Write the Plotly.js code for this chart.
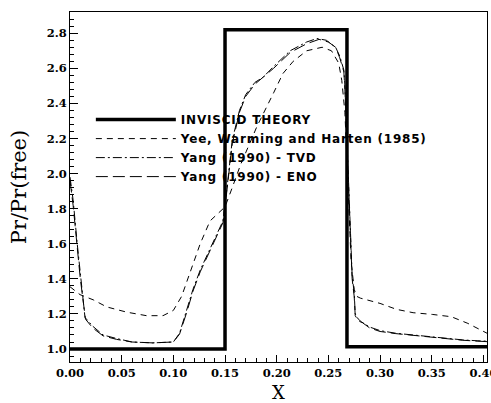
<!DOCTYPE html>
<html>
<head>
<meta charset="utf-8">
<script src="https://cdn.plot.ly/plotly-3.0.1.min.js"></script>
<style>
html,body{margin:0;padding:0;background:#fff;}
.legendtext{letter-spacing:0.8px;}
</style>
</head>
<body>
<div id="chart" style="width:491px;height:403px;"></div>
<script>
// Inviscid theory (step)
var invX = [0, 0.15, 0.15, 0.268, 0.268, 0.4035];
var invY = [1.0, 1.0, 2.82, 2.82, 1.013, 1.013];

// Yee, Warming and Harten (1985)
var yeeX = [0, 0.0097, 0.0226, 0.0355, 0.055, 0.074, 0.090, 0.100, 0.108, 0.116, 0.126, 0.1355, 0.150, 0.157, 0.165, 0.173, 0.181, 0.197, 0.206, 0.216, 0.229, 0.244, 0.253, 0.260, 0.263, 0.266, 0.268, 0.270, 0.272, 0.275, 0.2775, 0.281, 0.300, 0.316, 0.332, 0.351, 0.369, 0.385, 0.400, 0.4035];
var yeeY = [1.355, 1.31, 1.28, 1.24, 1.21, 1.19, 1.19, 1.22, 1.30, 1.43, 1.60, 1.73, 1.81, 1.92, 2.05, 2.16, 2.27, 2.46, 2.57, 2.64, 2.70, 2.72, 2.70, 2.63, 2.53, 2.35, 2.05, 1.75, 1.50, 1.34, 1.30, 1.29, 1.26, 1.226, 1.207, 1.197, 1.184, 1.146, 1.10, 1.09];

// Yang (1990) - TVD
var tvdX = [0, 0.003, 0.007, 0.010, 0.0145, 0.022, 0.032, 0.045, 0.060, 0.080, 0.100, 0.106, 0.113, 0.119, 0.126, 0.139, 0.148, 0.151, 0.153, 0.157, 0.164, 0.170, 0.179, 0.187, 0.197, 0.213, 0.229, 0.239, 0.248, 0.257, 0.261, 0.265, 0.266, 0.268, 0.270, 0.271, 0.273, 0.275, 0.276, 0.279, 0.282, 0.290, 0.300, 0.315, 0.332, 0.350, 0.365, 0.380, 0.394, 0.4035];
var tvdY = [1.98, 1.85, 1.60, 1.42, 1.18, 1.13, 1.08, 1.06, 1.04, 1.035, 1.04, 1.09, 1.22, 1.34, 1.45, 1.62, 1.73, 1.87, 1.98, 2.19, 2.36, 2.45, 2.52, 2.55, 2.61, 2.70, 2.75, 2.77, 2.76, 2.72, 2.67, 2.59, 2.50, 2.20, 1.85, 1.65, 1.42, 1.32, 1.20, 1.17, 1.155, 1.125, 1.105, 1.09, 1.08, 1.07, 1.058, 1.052, 1.047, 1.045];

// Yang (1990) - ENO
var enoX = [0, 0.003, 0.007, 0.010, 0.015, 0.022, 0.032, 0.045, 0.060, 0.080, 0.100, 0.106, 0.113, 0.119, 0.126, 0.139, 0.148, 0.151, 0.153, 0.157, 0.164, 0.170, 0.179, 0.187, 0.197, 0.213, 0.229, 0.241, 0.250, 0.257, 0.261, 0.265, 0.266, 0.268, 0.270, 0.271, 0.273, 0.275, 0.276, 0.279, 0.283, 0.290, 0.300, 0.315, 0.332, 0.350, 0.365, 0.380, 0.394, 0.4035];
var enoY = [1.96, 1.82, 1.58, 1.40, 1.17, 1.12, 1.075, 1.055, 1.04, 1.035, 1.04, 1.085, 1.21, 1.33, 1.44, 1.61, 1.72, 1.86, 1.97, 2.17, 2.35, 2.44, 2.51, 2.55, 2.60, 2.69, 2.74, 2.765, 2.75, 2.72, 2.66, 2.58, 2.48, 2.18, 1.83, 1.63, 1.40, 1.30, 1.19, 1.16, 1.15, 1.12, 1.10, 1.088, 1.078, 1.066, 1.056, 1.05, 1.045, 1.042];

var names = ["INVISCID THEORY", "Yee, Warming and Harten (1985)", "Yang (1990) - TVD", "Yang (1990) - ENO"];

var xTickVals = [0, 0.05, 0.10, 0.15, 0.20, 0.25, 0.30, 0.35, 0.40];
var xTickText = ["0.00", "0.05", "0.10", "0.15", "0.20", "0.25", "0.30", "0.35", "0.40"];
var yTickVals = [1.0, 1.2, 1.4, 1.6, 1.8, 2.0, 2.2, 2.4, 2.6, 2.8];
var yTickText = ["1.0", "1.2", "1.4", "1.6", "1.8", "2.0", "2.2", "2.4", "2.6", "2.8"];

var traces = [
  {x: invX, y: invY, name: names[0], mode: "lines", line: {color: "#000", width: 3.5}},
  {x: yeeX, y: yeeY, name: names[1], mode: "lines", line: {color: "#000", width: 1, dash: "6px,5px"}},
  {x: tvdX, y: tvdY, name: names[2], mode: "lines", line: {color: "#000", width: 1, dash: "9px,3px,2px,3px"}},
  {x: enoX, y: enoY, name: names[3], mode: "lines", line: {color: "#000", width: 1, dash: "12px,5px"}}
];

var tickFont = {family: "DejaVu Serif", size: 11.5, color: "#000", weight: "bold"};

var layout = {
  width: 491, height: 403,
  margin: {l: 70, r: 4, t: 12, b: 41},
  paper_bgcolor: "#fff", plot_bgcolor: "#fff",
  showlegend: true,
  legend: {
    x: 0.05, y: 0.734, xanchor: "left", yanchor: "top",
    bgcolor: "rgba(0,0,0,0)", borderwidth: 0,
    itemwidth: 80,
    font: {family: "DejaVu Sans", size: 12, color: "#000", weight: "bold"}
  },
  xaxis: {
    range: [0, 0.4035],
    tickmode: "array", tickvals: xTickVals, ticktext: xTickText,
    ticks: "inside", ticklen: 7, tickwidth: 1, tickcolor: "#000",
    minor: {dtick: 0.01, ticks: "inside", ticklen: 4, tickwidth: 1, tickcolor: "#000", showgrid: false},
    showgrid: false, zeroline: false,
    showline: true, linecolor: "#000", linewidth: 1, mirror: true,
    ticklabeloverflow: "allow",
    tickfont: tickFont,
    title: {text: "X", font: {family: "DejaVu Serif", size: 18, color: "#000"}, standoff: 16}
  },
  yaxis: {
    range: [0.926, 2.921],
    tickmode: "array", tickvals: yTickVals, ticktext: yTickText,
    ticks: "inside", ticklen: 8, tickwidth: 1, tickcolor: "#000",
    minor: {tick0: 1.0, dtick: 0.04, ticks: "inside", ticklen: 4, tickwidth: 1, tickcolor: "#000", showgrid: false},
    showgrid: false, zeroline: false,
    showline: true, linecolor: "#000", linewidth: 1, mirror: true,
    tickfont: tickFont,
    title: {text: "Pr/Pr(free)", font: {family: "DejaVu Serif", size: 21, color: "#000"}, standoff: 14}
  }
};

Plotly.newPlot("chart", traces, layout, {displayModeBar: false, staticPlot: true});
</script>
</body>
</html>
